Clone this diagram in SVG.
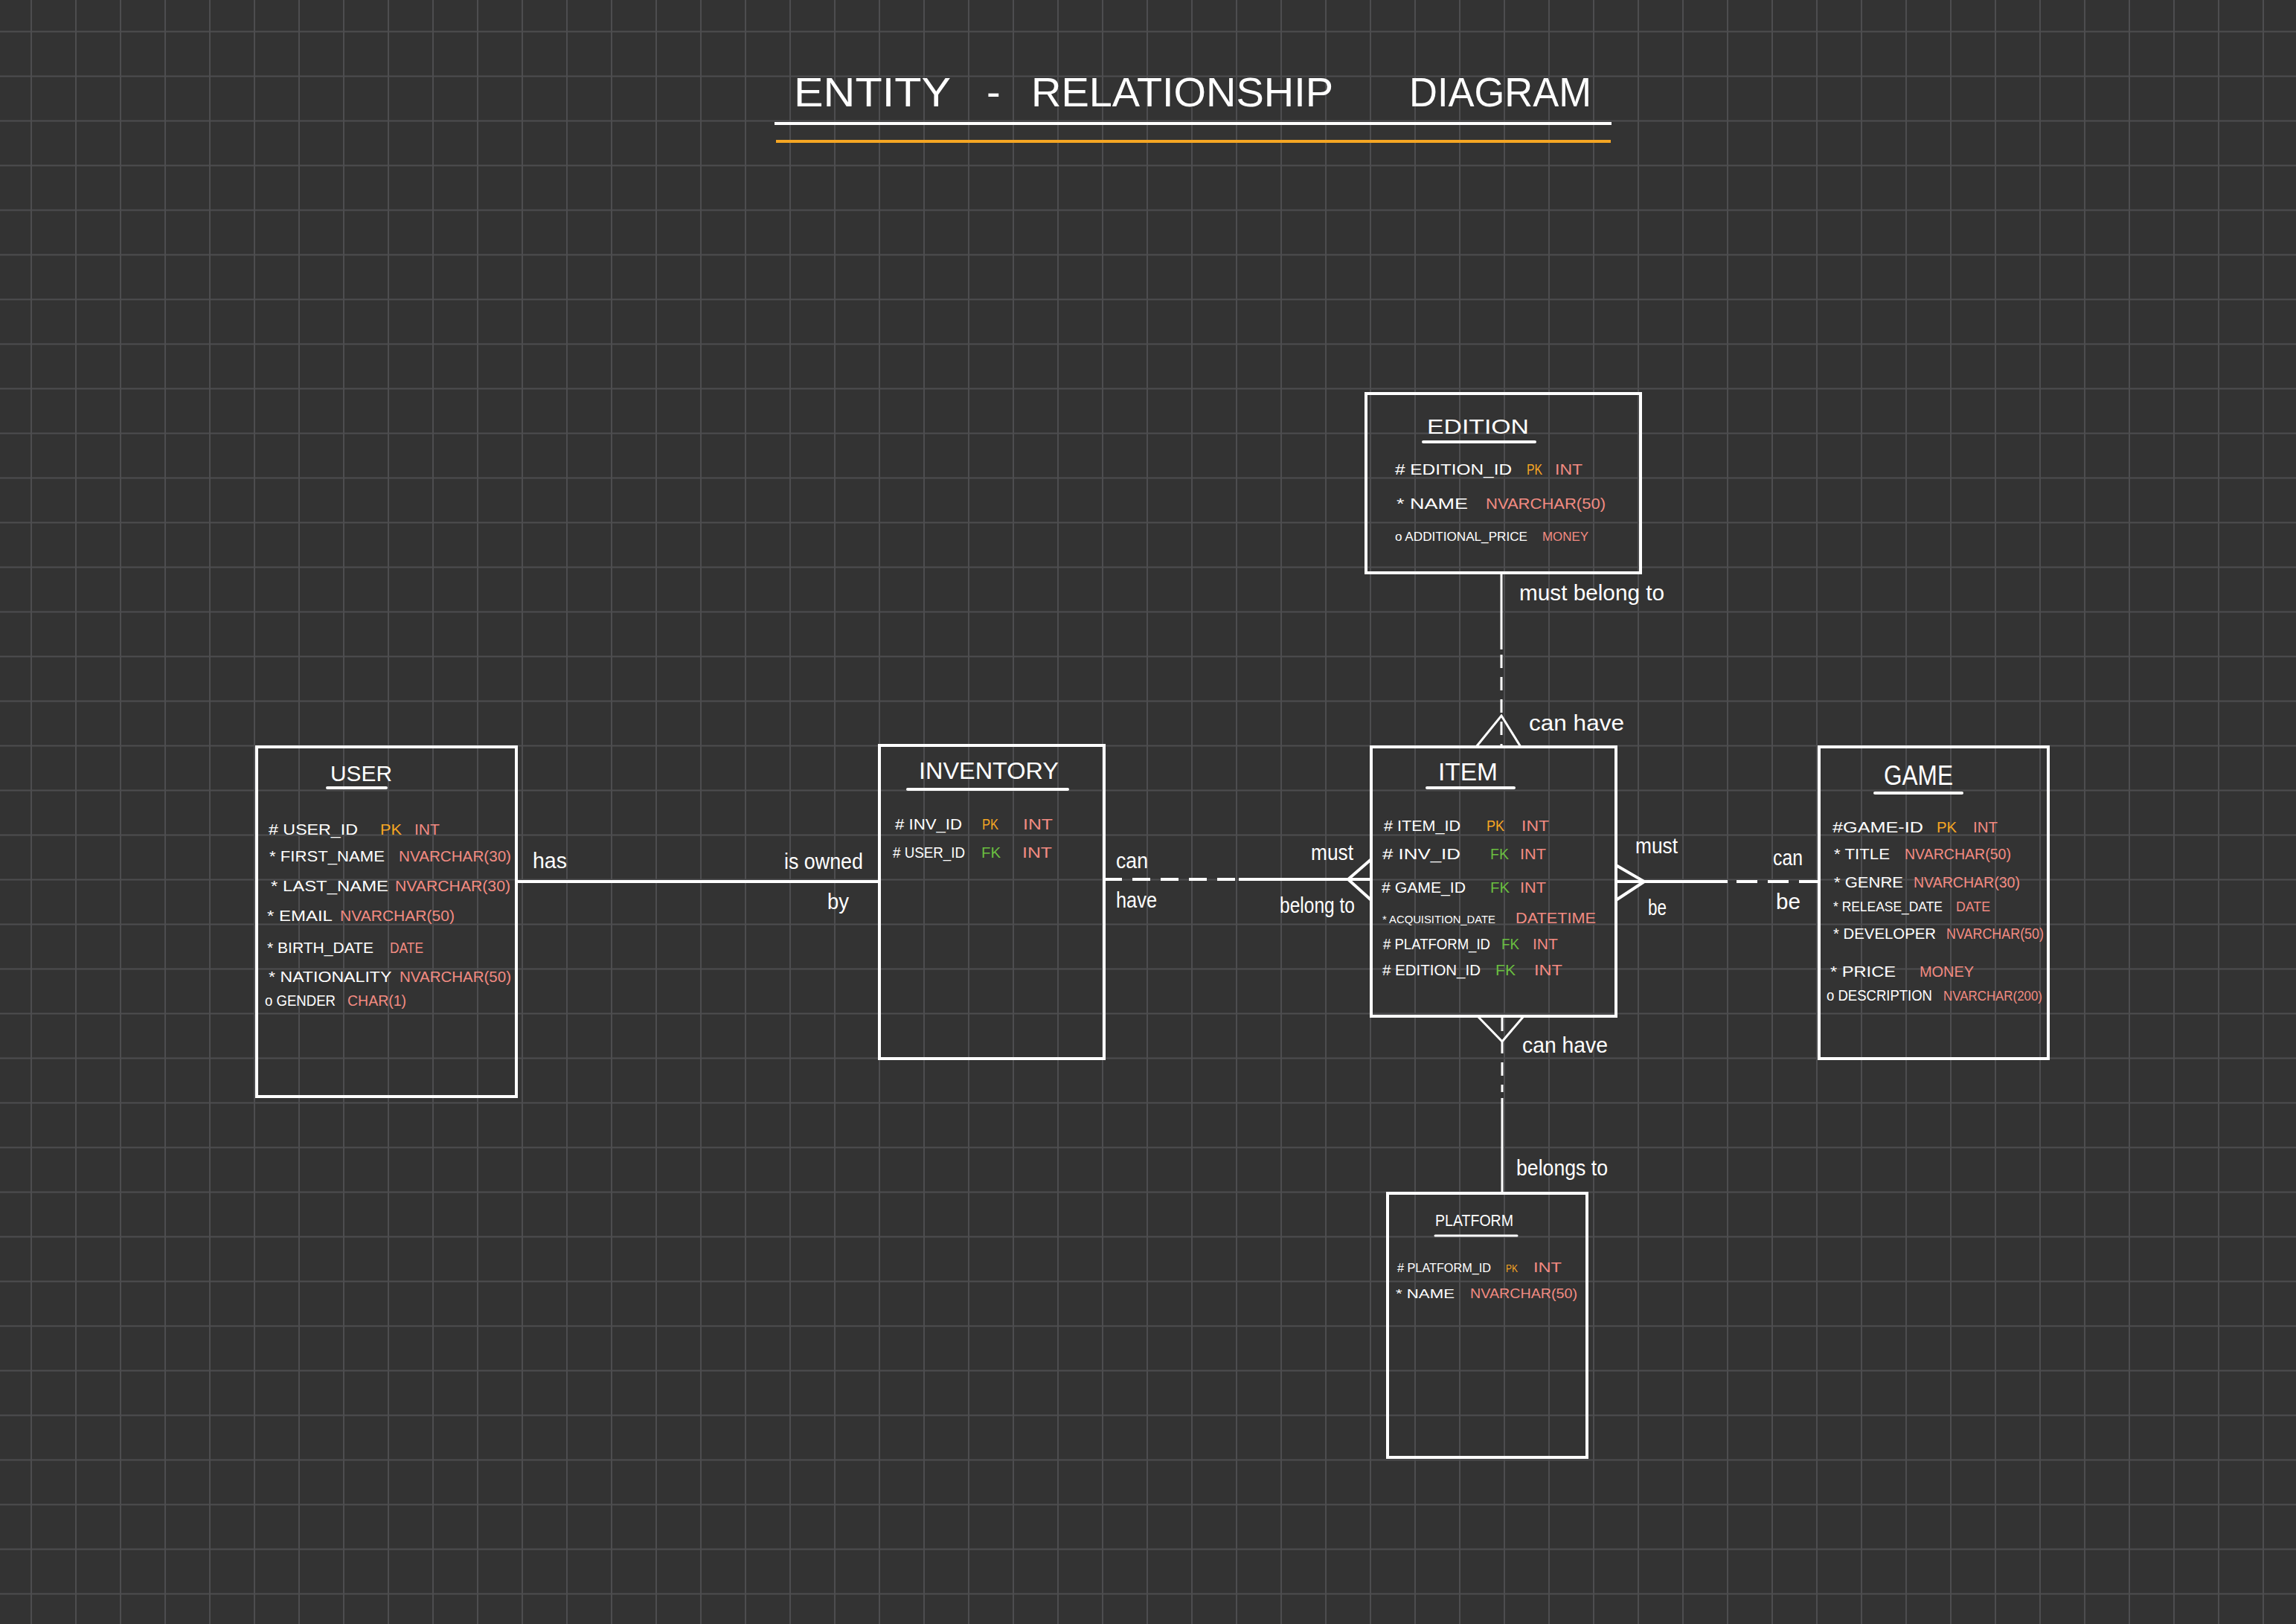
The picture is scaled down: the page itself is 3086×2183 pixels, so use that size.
<svg xmlns="http://www.w3.org/2000/svg" width="3086" height="2183" viewBox="0 0 3086 2183">
<style>
.t{font-family:"Liberation Sans","DejaVu Sans",sans-serif;}
.w{fill:#ffffff;}
.pk{fill:#f5a623;}
.fk{fill:#6abf40;}
.ty{fill:#f28b82;}
.box{fill:none;stroke:#ffffff;stroke-width:4;}
.ul{stroke:#ffffff;stroke-width:4;stroke-linecap:round;}
.conn{fill:none;stroke:#ffffff;stroke-width:4;}
.thin{stroke-width:3;}
.dh{stroke-dasharray:24 14;}
.dv{stroke-dasharray:18 12;}
.a{font-size:21px;}
.ttl{font-size:32px;}
.lbl{font-size:30px;fill:#ffffff;}
</style>
<defs>
<pattern id="grid" patternUnits="userSpaceOnUse" x="12" y="12.5" width="60" height="60">
<path d="M30 0V60M0 30H60" stroke="#4d4d4f" stroke-width="2" fill="none"/>
</pattern>
</defs>
<rect width="3086" height="2183" fill="#333333"/>
<rect width="3086" height="2183" fill="url(#grid)"/>

<g id="title">
<text class="t w" y="143" font-size="56"><tspan x="1067" textLength="210" lengthAdjust="spacingAndGlyphs">ENTITY</tspan> <tspan x="1326">-</tspan> <tspan x="1386" textLength="405" lengthAdjust="spacingAndGlyphs">RELATIONSHIP</tspan> <tspan x="1894" textLength="245" lengthAdjust="spacingAndGlyphs">DIAGRAM</tspan></text>
<line x1="1041" y1="166" x2="2166" y2="166" stroke="#ffffff" stroke-width="4"/>
<line x1="1043" y1="190" x2="2165" y2="190" stroke="#f5a623" stroke-width="4"/>
</g>

<g id="connectors">
<line class="conn" x1="694" y1="1185" x2="1182" y2="1185"/>
<line class="conn dh" x1="1484" y1="1182" x2="1665" y2="1182"/>
<line class="conn" x1="1665" y1="1182" x2="1843" y2="1182"/>
<polyline class="conn" points="1843,1155 1812,1182 1843,1210"/>
<line class="conn" x1="2172" y1="1185" x2="2322" y2="1185"/>
<line class="conn dh" x1="2334" y1="1185" x2="2445" y2="1185" style="stroke-dasharray:28 14"/>
<polyline class="conn" points="2172,1163 2210,1185 2172,1210"/>
<line class="conn thin" x1="2018" y1="770" x2="2018" y2="873"/>
<line class="conn thin dv" x1="2018" y1="880" x2="2018" y2="1004"/>
<polyline class="conn thin" points="1984,1004 2018,962 2044,1004"/>
<line class="conn thin dv" x1="2019" y1="1368" x2="2019" y2="1468"/>
<line class="conn thin" x1="2019" y1="1476" x2="2019" y2="1604"/>
<polyline class="conn thin" points="1986,1366 2019,1400 2048,1366"/>
</g>

<g id="connector-labels" class="t">
<text class="lbl" x="716" y="1167" textLength="46" lengthAdjust="spacingAndGlyphs">has</text>
<text class="lbl" x="1054" y="1168" textLength="106" lengthAdjust="spacingAndGlyphs">is owned</text>
<text class="lbl" x="1112" y="1222" textLength="29" lengthAdjust="spacingAndGlyphs">by</text>
<text class="lbl" x="1500" y="1167" textLength="43" lengthAdjust="spacingAndGlyphs">can</text>
<text class="lbl" x="1500" y="1220" textLength="55" lengthAdjust="spacingAndGlyphs">have</text>
<text class="lbl" x="1762" y="1156" textLength="57" lengthAdjust="spacingAndGlyphs">must</text>
<text class="lbl" x="1720" y="1227" textLength="101" lengthAdjust="spacingAndGlyphs">belong to</text>
<text class="lbl" x="2198" y="1147" textLength="57" lengthAdjust="spacingAndGlyphs">must</text>
<text class="lbl" x="2215" y="1230" textLength="25" lengthAdjust="spacingAndGlyphs">be</text>
<text class="lbl" x="2383" y="1163" textLength="40" lengthAdjust="spacingAndGlyphs">can</text>
<text class="lbl" x="2387" y="1222" textLength="33" lengthAdjust="spacingAndGlyphs">be</text>
<text class="lbl" x="2042" y="807" textLength="195" lengthAdjust="spacingAndGlyphs">must belong to</text>
<text class="lbl" x="2055" y="982" textLength="128" lengthAdjust="spacingAndGlyphs">can have</text>
<text class="lbl" x="2046" y="1415" textLength="115" lengthAdjust="spacingAndGlyphs">can have</text>
<text class="lbl" x="2038" y="1580" textLength="123" lengthAdjust="spacingAndGlyphs">belongs to</text>
</g>

<g id="user" class="t">
<rect class="box" x="345" y="1004" width="349" height="470"/>
<text class="w" x="444" y="1050" font-size="29" textLength="83" lengthAdjust="spacingAndGlyphs">USER</text>
<line class="ul" x1="440" y1="1059" x2="519" y2="1059"/>
<text class="a" y="1122"><tspan class="w" x="361" textLength="120" lengthAdjust="spacingAndGlyphs"># USER_ID</tspan> <tspan class="pk" x="511" textLength="29" lengthAdjust="spacingAndGlyphs">PK</tspan> <tspan class="ty" x="557" textLength="34" lengthAdjust="spacingAndGlyphs">INT</tspan></text>
<text class="a" y="1158"><tspan class="w" x="362" textLength="155" lengthAdjust="spacingAndGlyphs">* FIRST_NAME</tspan> <tspan class="ty" x="536" textLength="151" lengthAdjust="spacingAndGlyphs">NVARCHAR(30)</tspan></text>
<text class="a" y="1198"><tspan class="w" x="364" textLength="158" lengthAdjust="spacingAndGlyphs">* LAST_NAME</tspan> <tspan class="ty" x="531" textLength="155" lengthAdjust="spacingAndGlyphs">NVARCHAR(30)</tspan></text>
<text class="a" y="1238"><tspan class="w" x="359" textLength="87" lengthAdjust="spacingAndGlyphs">* EMAIL</tspan> <tspan class="ty" x="457" textLength="154" lengthAdjust="spacingAndGlyphs">NVARCHAR(50)</tspan></text>
<text class="a" y="1281"><tspan class="w" x="359" textLength="143" lengthAdjust="spacingAndGlyphs">* BIRTH_DATE</tspan> <tspan class="ty" x="524" textLength="45" lengthAdjust="spacingAndGlyphs">DATE</tspan></text>
<text class="a" y="1320"><tspan class="w" x="361" textLength="165" lengthAdjust="spacingAndGlyphs">* NATIONALITY</tspan> <tspan class="ty" x="537" textLength="150" lengthAdjust="spacingAndGlyphs">NVARCHAR(50)</tspan></text>
<text class="a" y="1352"><tspan class="w" x="356" textLength="95" lengthAdjust="spacingAndGlyphs">o GENDER</tspan> <tspan class="ty" x="467" textLength="79" lengthAdjust="spacingAndGlyphs">CHAR(1)</tspan></text>
</g>

<g id="inventory" class="t">
<rect class="box" x="1182" y="1002" width="302" height="421"/>
<text class="w ttl" x="1235" y="1047" textLength="188" lengthAdjust="spacingAndGlyphs">INVENTORY</text>
<line class="ul" x1="1220" y1="1061" x2="1435" y2="1061"/>
<text class="a" y="1115"><tspan class="w" x="1203" textLength="90" lengthAdjust="spacingAndGlyphs"># INV_ID</tspan> <tspan class="pk" x="1320" textLength="22" lengthAdjust="spacingAndGlyphs">PK</tspan> <tspan class="ty" x="1375" textLength="40" lengthAdjust="spacingAndGlyphs">INT</tspan></text>
<text class="a" y="1153"><tspan class="w" x="1200" textLength="97" lengthAdjust="spacingAndGlyphs"># USER_ID</tspan> <tspan class="fk" x="1319" textLength="26" lengthAdjust="spacingAndGlyphs">FK</tspan> <tspan class="ty" x="1374" textLength="40" lengthAdjust="spacingAndGlyphs">INT</tspan></text>
</g>

<g id="item" class="t">
<rect class="box" x="1843" y="1004" width="329" height="362"/>
<text class="w" x="1933" y="1049" font-size="33" textLength="80" lengthAdjust="spacingAndGlyphs">ITEM</text>
<line class="ul" x1="1918" y1="1059" x2="2035" y2="1059"/>
<text class="a" y="1117"><tspan class="w" x="1860" textLength="103" lengthAdjust="spacingAndGlyphs"># ITEM_ID</tspan> <tspan class="pk" x="1998" textLength="24" lengthAdjust="spacingAndGlyphs">PK</tspan> <tspan class="ty" x="2045" textLength="37" lengthAdjust="spacingAndGlyphs">INT</tspan></text>
<text class="a" y="1155"><tspan class="w" x="1858" textLength="105" lengthAdjust="spacingAndGlyphs"># INV_ID</tspan> <tspan class="fk" x="2003" textLength="25" lengthAdjust="spacingAndGlyphs">FK</tspan> <tspan class="ty" x="2043" textLength="35" lengthAdjust="spacingAndGlyphs">INT</tspan></text>
<text class="a" y="1200"><tspan class="w" x="1857" textLength="113" lengthAdjust="spacingAndGlyphs"># GAME_ID</tspan> <tspan class="fk" x="2003" textLength="26" lengthAdjust="spacingAndGlyphs">FK</tspan> <tspan class="ty" x="2043" textLength="35" lengthAdjust="spacingAndGlyphs">INT</tspan></text>
<text y="1241" font-size="14"><tspan class="w" x="1858" textLength="152" lengthAdjust="spacingAndGlyphs">* ACQUISITION_DATE</tspan> <tspan class="ty" x="2037" font-size="21" textLength="108" lengthAdjust="spacingAndGlyphs">DATETIME</tspan></text>
<text class="a" y="1276"><tspan class="w" x="1859" textLength="144" lengthAdjust="spacingAndGlyphs"># PLATFORM_ID</tspan> <tspan class="fk" x="2018" textLength="24" lengthAdjust="spacingAndGlyphs">FK</tspan> <tspan class="ty" x="2060" textLength="34" lengthAdjust="spacingAndGlyphs">INT</tspan></text>
<text class="a" y="1311"><tspan class="w" x="1858" textLength="132" lengthAdjust="spacingAndGlyphs"># EDITION_ID</tspan> <tspan class="fk" x="2010" textLength="27" lengthAdjust="spacingAndGlyphs">FK</tspan> <tspan class="ty" x="2062" textLength="38" lengthAdjust="spacingAndGlyphs">INT</tspan></text>
</g>

<g id="game" class="t">
<rect class="box" x="2445" y="1004" width="308" height="419"/>
<text class="w" x="2532" y="1055" font-size="37" textLength="93" lengthAdjust="spacingAndGlyphs">GAME</text>
<line class="ul" x1="2520" y1="1066" x2="2637" y2="1066"/>
<text class="a" y="1119"><tspan class="w" x="2463" textLength="122" lengthAdjust="spacingAndGlyphs">#GAME-ID</tspan> <tspan class="pk" x="2603" textLength="27" lengthAdjust="spacingAndGlyphs">PK</tspan> <tspan class="ty" x="2652" textLength="33" lengthAdjust="spacingAndGlyphs">INT</tspan></text>
<text class="a" y="1155"><tspan class="w" x="2465" textLength="75" lengthAdjust="spacingAndGlyphs">* TITLE</tspan> <tspan class="ty" x="2560" textLength="143" lengthAdjust="spacingAndGlyphs">NVARCHAR(50)</tspan></text>
<text class="a" y="1193"><tspan class="w" x="2465" textLength="93" lengthAdjust="spacingAndGlyphs">* GENRE</tspan> <tspan class="ty" x="2572" textLength="143" lengthAdjust="spacingAndGlyphs">NVARCHAR(30)</tspan></text>
<text y="1225" font-size="18"><tspan class="w" x="2464" textLength="147" lengthAdjust="spacingAndGlyphs">* RELEASE_DATE</tspan> <tspan class="ty" x="2629" textLength="46" lengthAdjust="spacingAndGlyphs">DATE</tspan></text>
<text class="a" y="1262"><tspan class="w" x="2464" textLength="138" lengthAdjust="spacingAndGlyphs">* DEVELOPER</tspan> <tspan class="ty" x="2616" textLength="131" lengthAdjust="spacingAndGlyphs">NVARCHAR(50)</tspan></text>
<text class="a" y="1313"><tspan class="w" x="2460" textLength="88" lengthAdjust="spacingAndGlyphs">* PRICE</tspan> <tspan class="ty" x="2580" textLength="73" lengthAdjust="spacingAndGlyphs">MONEY</tspan></text>
<text class="a" y="1345"><tspan class="w" x="2455" textLength="142" lengthAdjust="spacingAndGlyphs">o DESCRIPTION</tspan> <tspan class="ty" x="2612" font-size="18" textLength="133" lengthAdjust="spacingAndGlyphs">NVARCHAR(200)</tspan></text>
</g>

<g id="edition" class="t">
<rect class="box" x="1836" y="529" width="369" height="241"/>
<text class="w" x="1918" y="583" font-size="28" textLength="137" lengthAdjust="spacingAndGlyphs">EDITION</text>
<line class="ul" x1="1913" y1="594" x2="2063" y2="594"/>
<text class="a" y="638"><tspan class="w" x="1875" textLength="157" lengthAdjust="spacingAndGlyphs"># EDITION_ID</tspan> <tspan class="pk" x="2052" textLength="21" lengthAdjust="spacingAndGlyphs">PK</tspan> <tspan class="ty" x="2090" textLength="37" lengthAdjust="spacingAndGlyphs">INT</tspan></text>
<text class="a" y="684"><tspan class="w" x="1877" textLength="96" lengthAdjust="spacingAndGlyphs">* NAME</tspan> <tspan class="ty" x="1997" textLength="161" lengthAdjust="spacingAndGlyphs">NVARCHAR(50)</tspan></text>
<text y="727" font-size="17"><tspan class="w" x="1875" textLength="178" lengthAdjust="spacingAndGlyphs">o ADDITIONAL_PRICE</tspan> <tspan class="ty" x="2073" textLength="62" lengthAdjust="spacingAndGlyphs">MONEY</tspan></text>
</g>

<g id="platform" class="t">
<rect class="box" x="1865" y="1604" width="268" height="355"/>
<text class="w" x="1929" y="1648" font-size="22" textLength="105" lengthAdjust="spacingAndGlyphs">PLATFORM</text>
<line class="ul" x1="1929" y1="1661" x2="2039" y2="1661" style="stroke-width:3"/>
<text y="1710" font-size="17"><tspan class="w" x="1878" textLength="126" lengthAdjust="spacingAndGlyphs"># PLATFORM_ID</tspan> <tspan class="pk" x="2024" font-size="15" textLength="16" lengthAdjust="spacingAndGlyphs">PK</tspan> <tspan class="ty" x="2061" font-size="19" textLength="38" lengthAdjust="spacingAndGlyphs">INT</tspan></text>
<text y="1745" font-size="17"><tspan class="w" x="1876" textLength="79" lengthAdjust="spacingAndGlyphs">* NAME</tspan> <tspan class="ty" x="1976" font-size="19" textLength="144" lengthAdjust="spacingAndGlyphs">NVARCHAR(50)</tspan></text>
</g>
</svg>
